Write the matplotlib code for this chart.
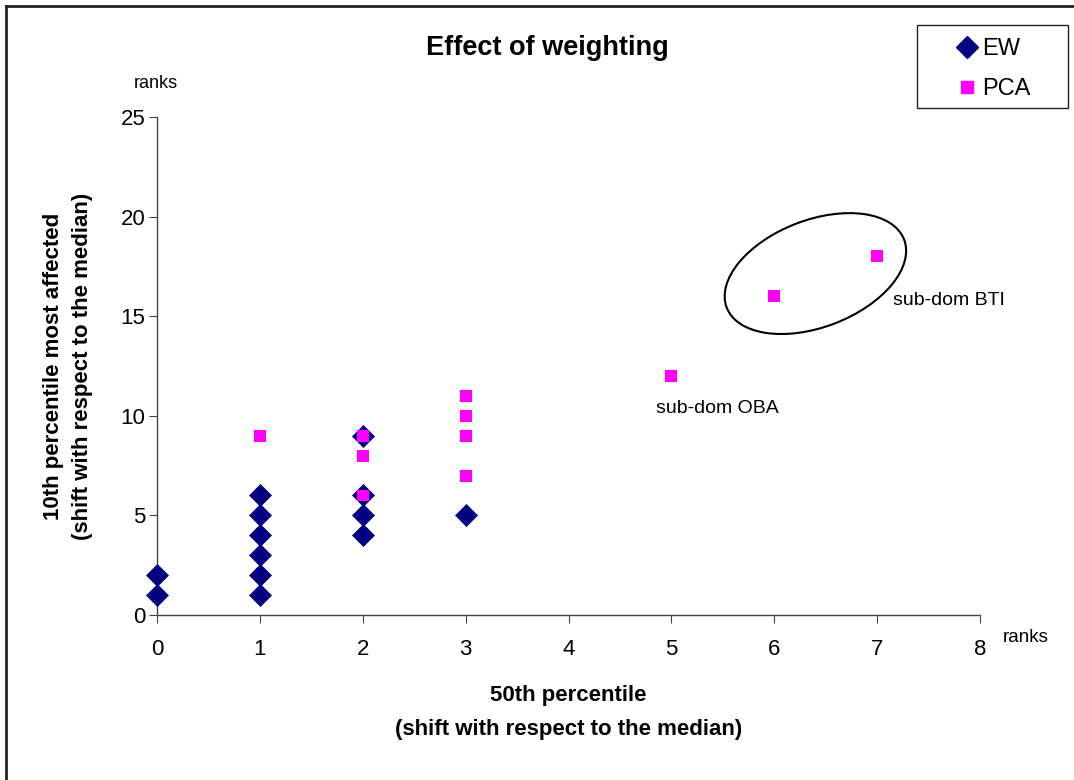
import matplotlib
matplotlib.use("Agg")
import matplotlib.pyplot as plt
from matplotlib.patches import Ellipse, Rectangle
from matplotlib.lines import Line2D
from matplotlib.transforms import ScaledTranslation

plt.rcParams['font.family'] = ['Liberation Sans', 'DejaVu Sans']

# Rank shifts: x = 50th percentile, y = 10th percentile most affected
ew_x = [0, 0, 1, 1, 1, 1, 1, 1, 2, 2, 2, 2, 3]
ew_y = [1, 2, 1, 2, 3, 4, 5, 6, 4, 5, 6, 9, 5]

pca_x = [1, 2, 2, 2, 3, 3, 3, 3, 5, 6, 7]
pca_y = [9, 6, 8, 9, 7, 9, 10, 11, 12, 16, 18]

x_ticks = [0, 1, 2, 3, 4, 5, 6, 7, 8]
y_ticks = [0, 5, 10, 15, 20, 25]

W, H = 1074, 780
fig = plt.figure(figsize=(W / 100, H / 100), dpi=100)
ax = fig.add_axes([157 / W, 1 - 615 / H, (980 - 157) / W, (615 - 117) / H])

ax.scatter(ew_x, ew_y, marker='D', s=11.2 ** 2, color='#000080',
           edgecolors='#000080', linewidths=0.5, zorder=3, clip_on=False)
ax.scatter(pca_x, pca_y, marker='s', s=8.6 ** 2, color='#FF00FF',
           edgecolors='none', zorder=4, clip_on=False)

ax.set_xlim(0, 8)
ax.set_ylim(0, 25)
ax.set_xticks(x_ticks)
ax.set_yticks(y_ticks)
ax.tick_params(axis='both', direction='out', length=5.5, width=0.8,
               labelsize=16, color='#444444')
ax.tick_params(axis='x', pad=12)
ax.tick_params(axis='y', pad=3)
for side in ('top', 'right'):
    ax.spines[side].set_visible(False)
for side in ('left', 'bottom'):
    ax.spines[side].set_color('#444444')
    ax.spines[side].set_linewidth(1.0)

ax.set_title('Effect of weighting', fontsize=19.5, fontweight='bold', pad=0,
             x=(547 - 157) / 823, y=(615 - 48) / 498, va='center')
ax.set_xlabel('50th percentile\n(shift with respect to the median)',
              fontsize=16, fontweight='bold', labelpad=18, linespacing=1.8)
ax.set_ylabel('10th percentile most affected\n(shift with respect to the median)',
              fontsize=16, fontweight='bold', labelpad=20, linespacing=1.45)

ax.text(-0.01, 25 + 33 / 19.92, 'ranks', fontsize=13, ha='center', va='center')
ax.text(8.22, -23 / 19.92, 'ranks', fontsize=13.5, ha='left', va='center')

ax.text(4.85, 10.35, 'sub-dom OBA', fontsize=14, ha='left', va='center')
ax.text(7.15, 15.8, 'sub-dom BTI', fontsize=14, ha='left', va='center')

# Ellipse drawn in inches around a data-space centre so it keeps its shape
centre = ScaledTranslation(6.40, 17.14, ax.transData)
ell = Ellipse((0, 0), width=1.9, height=1.07, angle=21, fill=False,
              edgecolor='black', linewidth=1.5,
              transform=fig.dpi_scale_trans + centre, zorder=5)
ax.add_patch(ell)

handles = [
    Line2D([], [], marker='D', linestyle='none', color='#000080', markersize=11),
    Line2D([], [], marker='s', linestyle='none', color='#FF00FF', markersize=8),
]
leg = fig.legend(handles, ['EW', 'PCA'], loc='upper left',
                 bbox_to_anchor=(955 / W, 1 - 38 / H), fontsize=17,
                 frameon=False, borderpad=0, handletextpad=0.15,
                 handlelength=1.0, labelspacing=0.76, borderaxespad=0)
fig.add_artist(Rectangle((917 / W, 1 - 108 / H), (1068 - 917) / W, (108 - 25) / H,
                         transform=fig.transFigure, fill=False,
                         edgecolor='#222222', linewidth=1.0))

# Frame lines along the top and left edges
fig.add_artist(Line2D([6 / W, 6 / W], [0, 1 - 6 / H], color='#222222',
                      linewidth=2, transform=fig.transFigure))
fig.add_artist(Line2D([6 / W, 1], [1 - 6 / H, 1 - 6 / H], color='#222222',
                      linewidth=2, transform=fig.transFigure))

fig.savefig('out.png', dpi=100, facecolor='white')
